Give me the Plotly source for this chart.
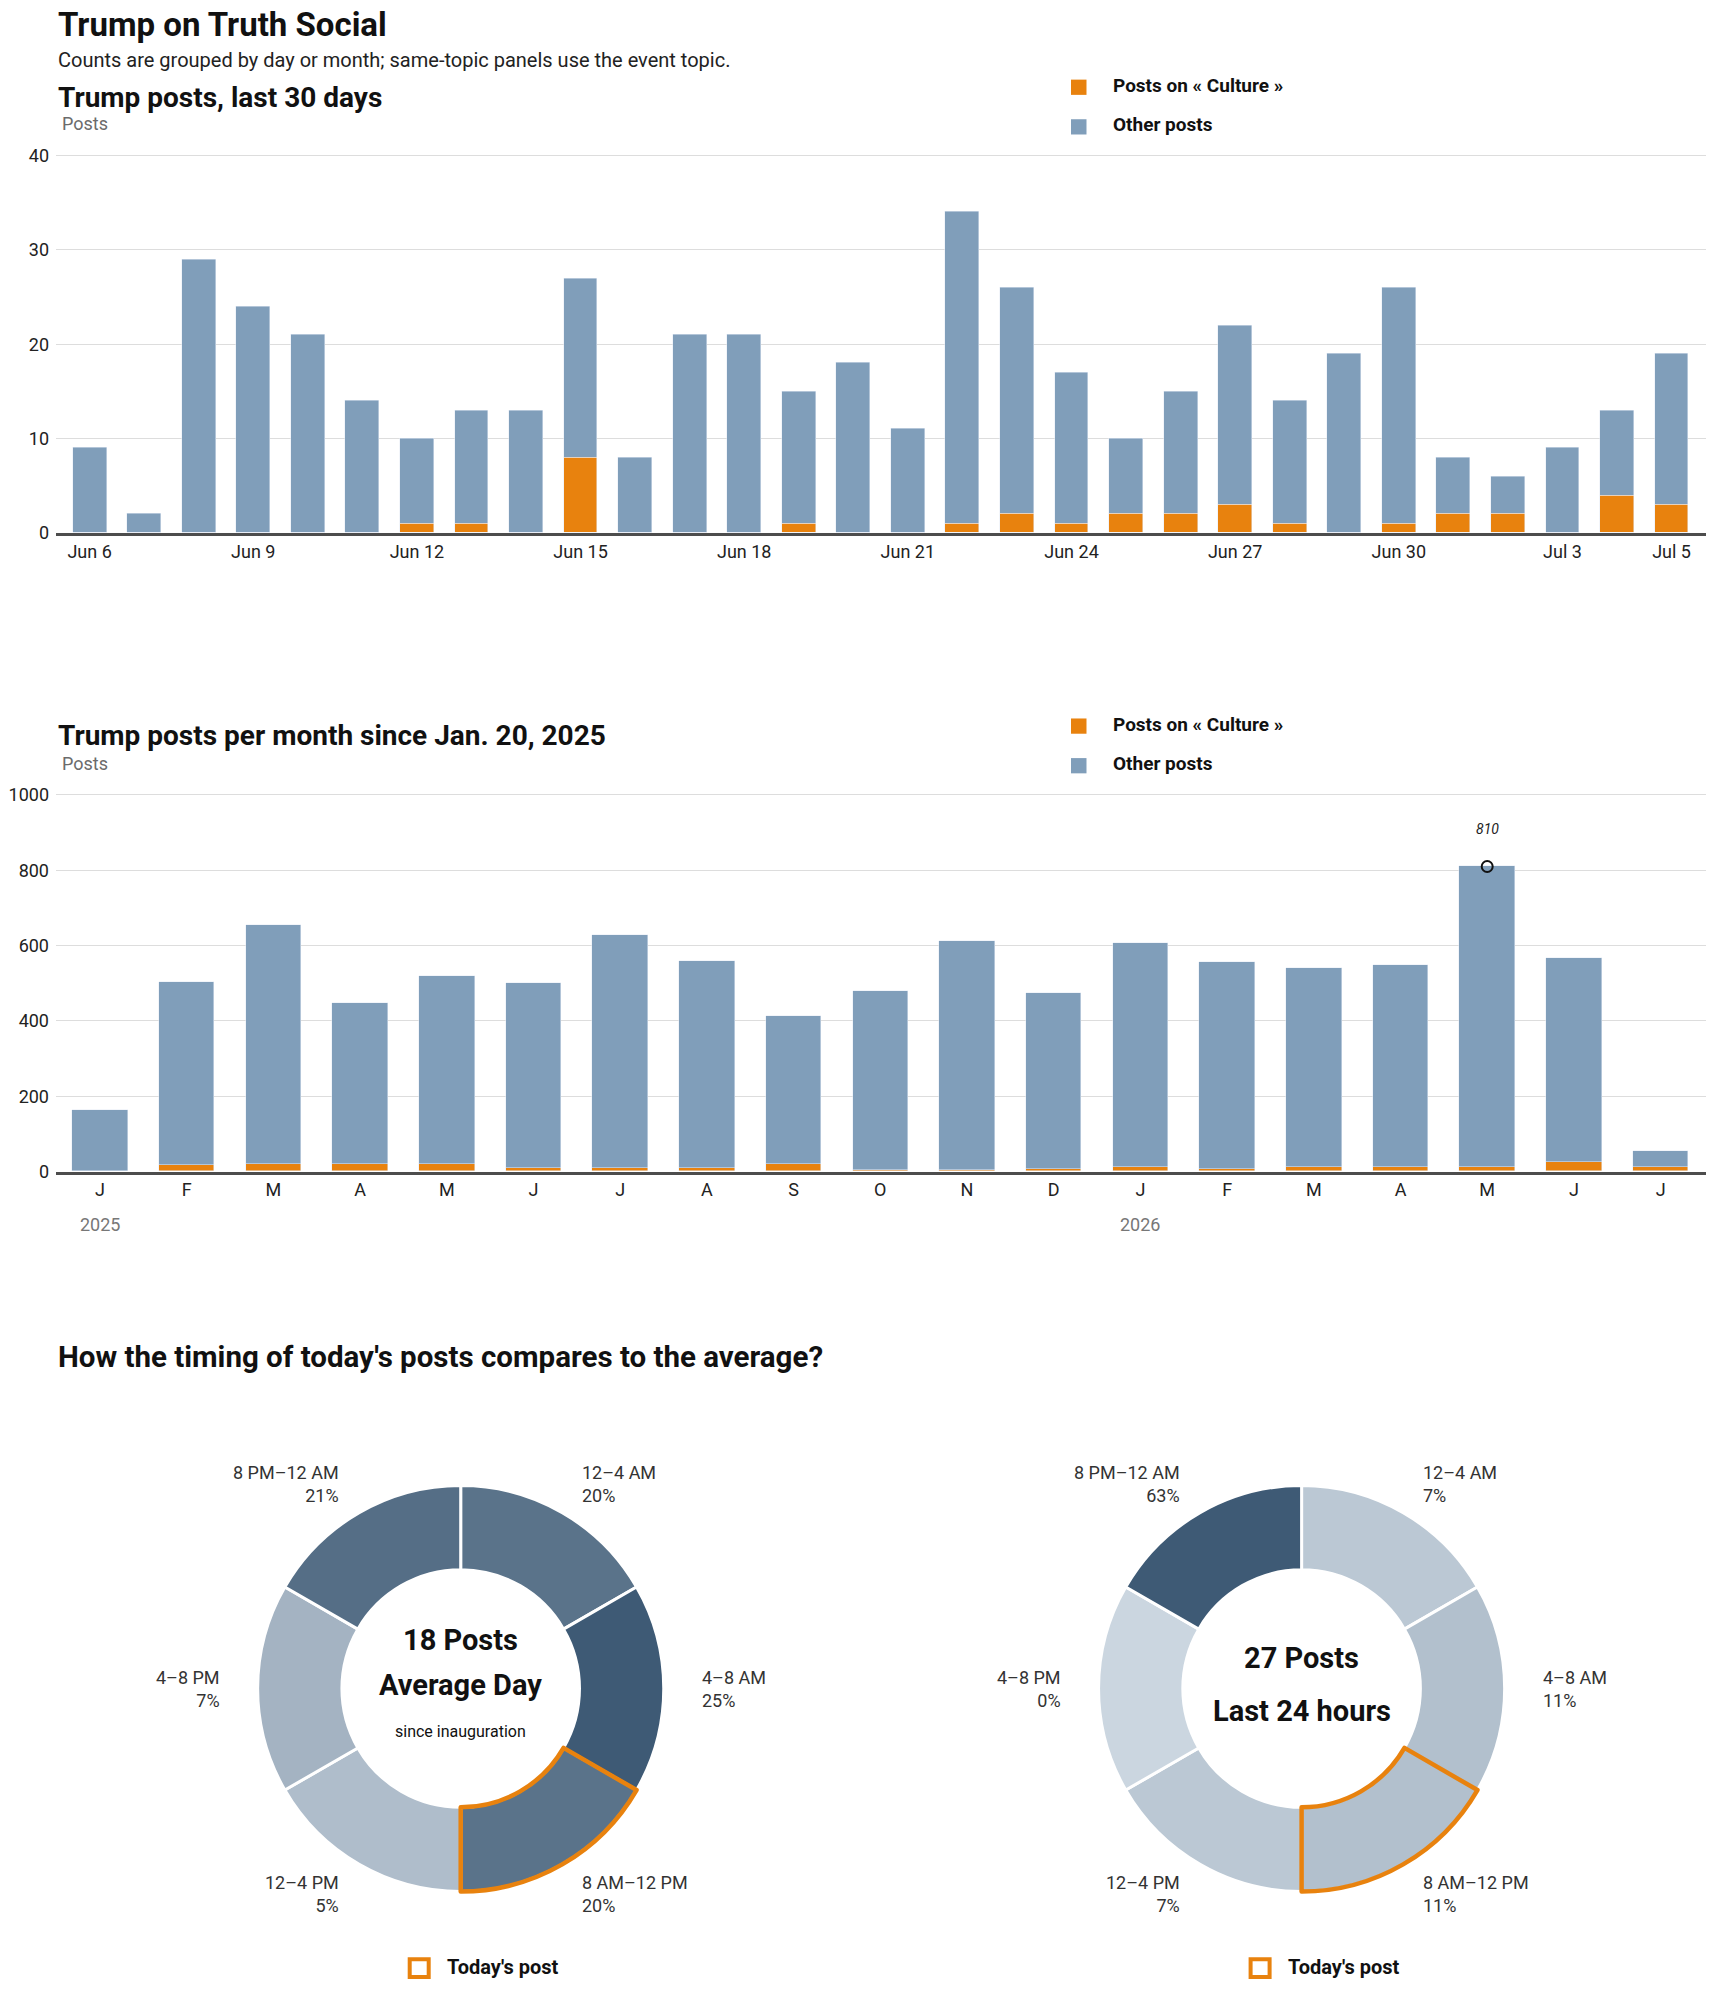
import math
import plotly.graph_objects as go

# ---- data ----
days = [f"2026-06-{d:02d}" for d in range(6, 31)] + [f"2026-07-{d:02d}" for d in range(1, 6)]
day_culture = [0, 0, 0, 0, 0, 0, 1, 1, 0, 8, 0, 0, 0, 1, 0, 0, 1, 2, 1, 2, 2, 3, 1, 0, 1, 2, 2, 0, 4, 3]
day_other = [9, 2, 29, 24, 21, 14, 9, 12, 13, 19, 8, 21, 21, 14, 18, 11, 33, 24, 16, 8, 13, 19, 13, 19, 25, 6, 4, 9, 9, 16]
day_ticks = ["2026-06-06", "2026-06-09", "2026-06-12", "2026-06-15", "2026-06-18", "2026-06-21",
             "2026-06-24", "2026-06-27", "2026-06-30", "2026-07-03", "2026-07-05"]
day_ticktext = ["Jun 6", "Jun 9", "Jun 12", "Jun 15", "Jun 18", "Jun 21",
                "Jun 24", "Jun 27", "Jun 30", "Jul 3", "Jul 5"]

months = ["2025-01", "2025-02", "2025-03", "2025-04", "2025-05", "2025-06", "2025-07", "2025-08",
          "2025-09", "2025-10", "2025-11", "2025-12", "2026-01", "2026-02", "2026-03", "2026-04",
          "2026-05", "2026-06", "2026-07"]
month_letters = ["J", "F", "M", "A", "M", "J", "J", "A", "S", "O", "N", "D", "J", "F", "M", "A", "M", "J", "J"]
month_culture = [0, 17, 21, 19, 21, 8, 10, 10, 19, 5, 5, 7, 11, 7, 11, 11, 11, 24, 11]
month_other = [164, 487, 633, 428, 499, 492, 618, 550, 393, 473, 607, 466, 596, 550, 528, 538, 799, 544, 44]
year_labels = {"2025-01": "2025", "2026-01": "2026"}

slots = ["12–4 AM", "4–8 AM", "8 AM–12 PM", "12–4 PM", "4–8 PM", "8 PM–12 AM"]
slot_hours = [4, 4, 4, 4, 4, 4]
avg_pct = [20, 25, 20, 5, 7, 21]
today_pct = [7, 11, 11, 7, 0, 63]
avg_posts = 18
today_posts = 27
todays_slot = "8 AM–12 PM"

# ---- style ----
W, H = 1710, 1993
FONT = "Roboto"
ORANGE = "#e8820e"
BLUE = "#809eba"
DARK = "#222222"
LIGHT_SHADE = (203, 214, 224)
DARK_SHADE = (62, 90, 117)


def px_x(v):
    # pixel -> paper fraction
    return v / W


def px_y(v):
    return 1 - v / H


def shade(p, pmax):
    t = p / pmax
    c = [round(a + (b - a) * t) for a, b in zip(LIGHT_SHADE, DARK_SHADE)]
    return "rgb({},{},{})".format(*c)


fig = go.Figure()

# bar chart 1: last 30 days
fig.add_trace(go.Bar(x=days, y=day_culture, marker_color=ORANGE, width=0.62,
                     xaxis="x", yaxis="y", showlegend=False, name="Posts on « Culture »"))
fig.add_trace(go.Bar(x=days, y=day_other, marker_color=BLUE, width=0.62,
                     xaxis="x", yaxis="y", showlegend=False, name="Other posts"))

# bar chart 2: per month
fig.add_trace(go.Bar(x=months, y=month_culture, marker_color=ORANGE, width=0.64,
                     xaxis="x2", yaxis="y2", showlegend=False, name="Posts on « Culture »"))
fig.add_trace(go.Bar(x=months, y=month_other, marker_color=BLUE, width=0.64,
                     xaxis="x2", yaxis="y2", showlegend=False, name="Other posts"))

month_total = [c + o for c, o in zip(month_culture, month_other)]
peak = max(month_total)
peak_month = months[month_total.index(peak)]
fig.add_trace(go.Scatter(x=[peak_month], y=[peak], mode="markers", xaxis="x2", yaxis="y2",
                         marker=dict(symbol="circle-open", size=11, color="#111111",
                                     line=dict(width=2)),
                         showlegend=False, hoverinfo="skip"))

# donuts
donuts = [
    (460.7, avg_pct, ["<b>%d Posts</b>" % avg_posts, "<b>Average Day</b>", "since inauguration"],
     [1647, 1692, 1739], [29, 29, 16]),
    (1301.6, today_pct, ["<b>%d Posts</b>" % today_posts, "<b>Last 24 hours</b>"],
     [1665, 1718], [29, 29]),
]
CY, R_OUT, R_LAB = 1695.7, 205, 239
annotations = []
shapes = []

for cx, pct, center_lines, center_ys, center_sizes in donuts:
    dom = dict(x=[px_x(cx - R_OUT), px_x(cx + R_OUT)], y=[px_y(CY + R_OUT), px_y(CY - R_OUT)])
    pmax = max(pct)
    fig.add_trace(go.Pie(values=slot_hours, labels=slots, domain=dom, hole=0.585, sort=False,
                         direction="clockwise", rotation=0, textinfo="none", hoverinfo="label",
                         marker=dict(colors=[shade(p, pmax) for p in pct],
                                     line=dict(color="white", width=3)),
                         showlegend=False))
    # orange outline on the slot of today's post
    fig.add_trace(go.Pie(values=slot_hours, labels=slots, domain=dom, hole=0.585, sort=False,
                         direction="clockwise", rotation=0, textinfo="none", hoverinfo="skip",
                         marker=dict(colors=["rgba(0,0,0,0)"] * len(slots),
                                     line=dict(color=[ORANGE if s == todays_slot else "rgba(0,0,0,0)"
                                                      for s in slots],
                                               width=[4.5 if s == todays_slot else 0 for s in slots])),
                         showlegend=False))
    # slot labels around the ring
    start = 0
    for s, h, p in zip(slots, slot_hours, pct):
        mid = math.radians((start + h / 2) / sum(slot_hours) * 360)
        start += h
        dx, dy = R_LAB * math.sin(mid), -R_LAB * math.cos(mid)
        right = dx > 1
        annotations.append(dict(x=px_x(cx + dx), y=px_y(CY + dy), xref="paper", yref="paper",
                                text=f"{s}<br>{p}%", showarrow=False,
                                xanchor="left" if right else "right", yanchor="middle",
                                align="left" if right else "right",
                                font=dict(family=FONT, size=18, color="#333333")))
    for t, yy, sz in zip(center_lines, center_ys, center_sizes):
        annotations.append(dict(x=px_x(cx), y=px_y(yy), xref="paper", yref="paper", text=t,
                                showarrow=False, xanchor="center", yanchor="middle",
                                font=dict(family=FONT, size=sz, color="#111111")))
    # legend: today's post
    shapes.append(dict(type="rect", xref="paper", yref="paper",
                       x0=px_x(cx - 51), x1=px_x(cx - 32), y0=px_y(1987), y1=px_y(1969),
                       line=dict(color=ORANGE, width=4), fillcolor="white"))
    annotations.append(dict(x=px_x(cx - 16), y=px_y(1977), xref="paper", yref="paper",
                            text="<b>Today's post</b>", showarrow=False, xanchor="left",
                            yanchor="middle", font=dict(family=FONT, size=20, color="#111111")))

# titles
texts = [
    ("Trump on Truth Social", 56, 16, 33, "#111111", True),
    ("Counts are grouped by day or month; same-topic panels use the event topic.", 56, 51, 20, "#222222", False),
    ("Trump posts, last 30 days", 56, 89, 28, "#111111", True),
    ("Posts", 60, 116, 18, "#6b6b6b", False),
    ("Trump posts per month since Jan. 20, 2025", 56, 733, 28, "#111111", True),
    ("Posts", 60, 762, 18, "#6b6b6b", False),
    ("How the timing of today's posts compares to the average?", 56, 1361, 29.5, "#111111", True),
]
for t, x, y, sz, col, bold in texts:
    annotations.append(dict(x=px_x(x), y=px_y(y), xref="paper", yref="paper",
                            text=f"<b>{t}</b>" if bold else t, showarrow=False,
                            xanchor="left", yanchor="middle",
                            font=dict(family=FONT, size=sz, color=col)))

# bar legends
for top in (79, 724):
    for i, (label, col) in enumerate([("Posts on « Culture »", ORANGE), ("Other posts", BLUE)]):
        yc = top + 40 * i
        shapes.append(dict(type="rect", xref="paper", yref="paper",
                           x0=px_x(1071), x1=px_x(1086.5), y0=px_y(yc + 7.7), y1=px_y(yc - 7.7),
                           line=dict(width=0), fillcolor=col))
        annotations.append(dict(x=px_x(1111), y=px_y(yc - 2), xref="paper", yref="paper",
                                text=f"<b>{label}</b>", showarrow=False, xanchor="left",
                                yanchor="middle", font=dict(family=FONT, size=19, color="#111111")))

# peak label and year labels
annotations.append(dict(x=peak_month, y=peak, xref="x2", yref="y2", text=str(peak),
                        showarrow=False, yshift=37,
                        font=dict(family=FONT, size=14, color="#222222", style="italic")))
for m, yr in year_labels.items():
    annotations.append(dict(x=m, y=px_y(1227), xref="x2", yref="paper", text=yr,
                            showarrow=False, yanchor="middle",
                            font=dict(family=FONT, size=18, color="#777777")))

# plot areas (pixels)
LEFT, RIGHT = 56, 1706
Y1_TOP, Y1_BOT = 148, 529
Y2_TOP, Y2_BOT = 793.5, 1173.7
# bar band geometry: first bar centre and step, in pixels
D_FIRST, D_STEP = 89.6, 54.55
M_FIRST, M_STEP = 100.0, 86.7

xdom = [px_x(LEFT), px_x(RIGHT)]
axis_font = dict(family=FONT, size=18, color=DARK)
common_x = dict(type="category", showgrid=False, zeroline=False, showline=True,
                linecolor="#4d4d4d", linewidth=3, ticks="", tickfont=axis_font, fixedrange=True)
common_y = dict(showgrid=True, gridcolor="#dddddd", gridwidth=1, zeroline=False, showline=False,
                ticks="", tickfont=axis_font, ticklabelstandoff=6, fixedrange=True)

# small headroom above the top tick so its gridline is drawn
y1_ppu = (Y1_BOT - Y1_TOP) / 40
y2_ppu = (Y2_BOT - Y2_TOP) / 1000

fig.update_layout(
    width=W, height=H,
    margin=dict(l=0, r=0, t=0, b=0),
    paper_bgcolor="white", plot_bgcolor="white",
    barmode="stack", bargap=0,
    font=dict(family=FONT, color=DARK),
    xaxis=dict(common_x, domain=xdom, anchor="y",
               range=[-(D_FIRST - LEFT) / D_STEP, (RIGHT - D_FIRST) / D_STEP],
               tickvals=day_ticks, ticktext=day_ticktext),
    yaxis=dict(common_y, domain=[px_y(Y1_BOT), px_y(Y1_TOP - 0.2 * y1_ppu)], anchor="x",
               range=[0, 40.2], tickvals=[0, 10, 20, 30, 40]),
    xaxis2=dict(common_x, domain=xdom, anchor="y2",
                range=[-(M_FIRST - LEFT) / M_STEP, (RIGHT - M_FIRST) / M_STEP],
                tickvals=months, ticktext=month_letters),
    yaxis2=dict(common_y, domain=[px_y(Y2_BOT), px_y(Y2_TOP - 5 * y2_ppu)], anchor="x2",
                range=[0, 1005], tickvals=[0, 200, 400, 600, 800, 1000]),
    annotations=annotations,
    shapes=shapes,
)

fig.write_html("out.html", config={"displayModeBar": False},
               post_script="document.body.style.margin='0';")
